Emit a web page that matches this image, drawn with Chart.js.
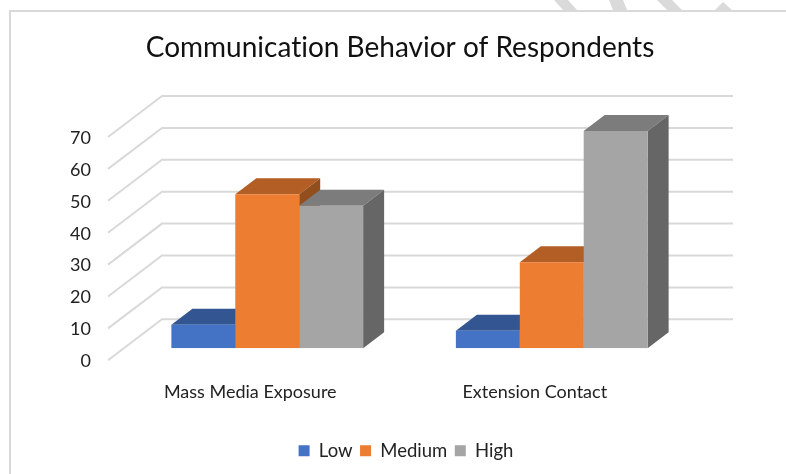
<!DOCTYPE html>
<html>
<head>
<meta charset="utf-8">
<script src="https://cdn.jsdelivr.net/npm/chart.js@4"></script>
<style>
  html, body { margin: 0; padding: 0; background: #fff; overflow: hidden; }
  #wrap { width: 786px; height: 474px; position: relative; }
</style>
</head>
<body>
<div id="wrap"><canvas id="chart" width="786" height="474"></canvas></div>
<script>
const categories = ['Mass Media Exposure', 'Extension Contact'];
const low = [7.4, 5.5];
const medium = [48.3, 27];
const high = [44.7, 68.1];
const yTicks = [0, 10, 20, 30, 40, 50, 60, 70];

const FONT = 'Lato, "Open Sans", sans-serif';

// bits of the page behind the chart, above the frame
const stripes = [
  [[554, 0], [568, 0], [577, 10], [563, 10]],
  [[609, 0], [623, 0], [627, 10], [613, 10]],
  [[657, 0], [672, 0], [682, 10], [667, 10]],
  [[723, 2], [732, 10], [715, 10]]
];

function shade(hex, f) {
  const n = parseInt(hex.slice(1), 16);
  const c = [n >> 16, (n >> 8) & 255, n & 255].map(v => Math.round(v * f));
  return 'rgb(' + c.join(',') + ')';
}

// fake 3D: floor + back wall grid lines, bar tops and sides
const depth = {
  id: 'depth',
  afterLayout(chart) {
    // title and legend are not centred on the plot in the original
    chart.titleBlock.left = 0; chart.titleBlock.right = 800;
    chart.legend.left = 0; chart.legend.right = 812;
  },
  beforeDraw(chart) {
    const c = chart.ctx;
    c.textRendering = 'optimizeSpeed';
    c.save();
    c.fillStyle = '#dadada';
    stripes.forEach(s => {
      c.beginPath();
      s.forEach((p, i) => i ? c.lineTo(p[0], p[1]) : c.moveTo(p[0], p[1]));
      c.closePath();
      c.fill();
    });
    c.strokeStyle = '#d9d9d9';
    c.lineWidth = 2;
    c.strokeRect(10, 11, 800, 500);
    c.restore();
  },
  beforeDatasetsDraw(chart) {
    const c = chart.ctx, y = chart.scales.y;
    c.save();
    c.strokeStyle = '#d9d9d9';
    c.lineWidth = 2;
    yTicks.forEach(v => {
      const p = y.getPixelForValue(v);
      c.beginPath();
      c.moveTo(108, p + 12);
      c.lineTo(162, p - 29);
      c.lineTo(733, p - 29);
      c.stroke();
    });
    const dx = 21, dy = -16;
    chart.data.datasets.forEach((ds, i) => {
      chart.getDatasetMeta(i).data.forEach(bar => {
        const l = bar.x - bar.width / 2, r = bar.x + bar.width / 2;
        c.fillStyle = shade(ds.backgroundColor, 0.75);
        c.beginPath();
        c.moveTo(l, bar.y); c.lineTo(l + dx, bar.y + dy); c.lineTo(r + dx, bar.y + dy); c.lineTo(r, bar.y);
        c.closePath(); c.fill();
        c.fillStyle = shade(ds.backgroundColor, 0.62);
        c.beginPath();
        c.moveTo(r, bar.y); c.lineTo(r + dx, bar.y + dy); c.lineTo(r + dx, bar.base + dy); c.lineTo(r, bar.base);
        c.closePath(); c.fill();
      });
    });
    c.restore();
  }
};

new Chart(document.getElementById('chart'), {
  type: 'bar',
  data: {
    labels: categories,
    datasets: [
      { label: 'Low', data: low, backgroundColor: '#4472c4' },
      { label: 'Medium', data: medium, backgroundColor: '#ed7d31' },
      { label: 'High', data: high, backgroundColor: '#a5a5a5' }
    ]
  },
  plugins: [depth],
  options: {
    responsive: false,
    animation: false,
    layout: { padding: { left: 60, right: 92, top: 0, bottom: 4 } },
    datasets: { bar: { categoryPercentage: 0.674, barPercentage: 1 } },
    plugins: {
      title: {
        display: true,
        text: 'Communication Behavior of Respondents',
        color: '#111',
        font: { family: FONT, size: 28, weight: 'normal' },
        padding: { top: 31, bottom: 60.4 }
      },
      legend: {
        position: 'bottom',
        labels: {
          color: '#222',
          font: { family: FONT, size: 18.5 },
          boxWidth: 11,
          boxHeight: 11,
          padding: 7.5
        }
      },
      tooltip: { enabled: false }
    },
    scales: {
      x: {
        grid: { display: false },
        border: { display: false },
        ticks: { color: '#222', font: { family: FONT, size: 18 }, labelOffset: -17, padding: 25, maxRotation: 0 },
        afterFit(s) { s.height = 85.7; }
      },
      y: {
        min: 0,
        max: 70,
        afterBuildTicks(s) { s.ticks = yTicks.map(v => ({ value: v })); },
        grid: { display: false },
        border: { display: false },
        ticks: { color: '#222', font: { family: FONT, size: 18 }, labelOffset: 13, padding: 26 },
        afterFit(s) { s.width = 65; }
      }
    }
  }
});
</script>
</body>
</html>
